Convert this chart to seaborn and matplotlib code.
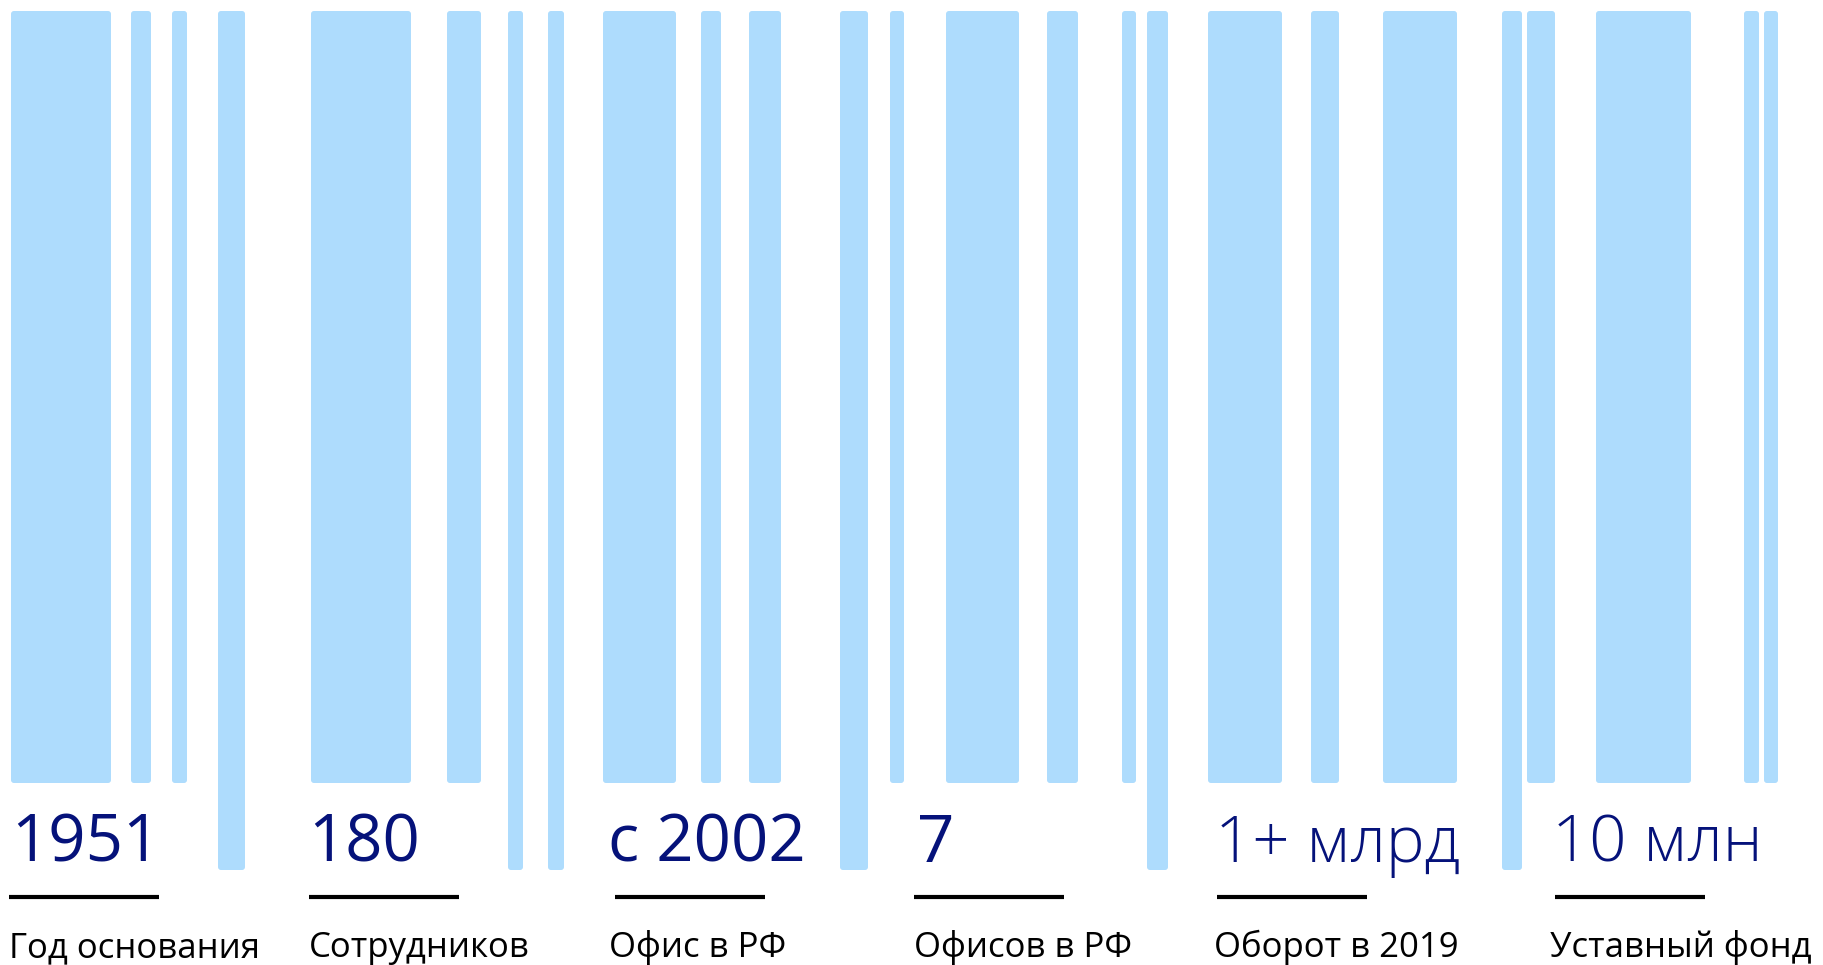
import seaborn as sns
import matplotlib.pyplot as plt
from matplotlib.patches import FancyBboxPatch

# barcode stripes, in picture pixel units (left edge, right edge, long or short)
bar_left = [11, 131, 172, 218, 311, 447, 508, 548, 603, 701, 749, 840, 890,
            946, 1047, 1122, 1147, 1208, 1311, 1383, 1502, 1527, 1596, 1744, 1764]
bar_right = [111, 151, 187, 245, 411, 481, 523, 564, 676, 721, 781, 868, 904,
             1019, 1078, 1136, 1168, 1282, 1339, 1457, 1522, 1555, 1691, 1759, 1778]
bar_long = [0, 0, 0, 1, 0, 0, 1, 1, 0, 0, 0, 1, 0,
            0, 0, 0, 1, 0, 0, 0, 1, 0, 0, 0, 0]

# facts under the barcode
values = ["1951", "180", "с 2002", "7", "1+ млрд", "10 млн"]
captions = ["Год основания", "Сотрудников", "Офис в РФ", "Офисов в РФ",
            "Оборот в 2019", "Уставный фонд"]
value_x = [11, 308, 608, 917, 1215, 1552]
line_x = [9, 309, 615, 914, 1217, 1555]
caption_x = [9, 309, 609, 914, 1214, 1550]
light = [False, False, False, False, True, True]

sns.set_theme(style="white")
plt.rcParams['font.family'] = ['Open Sans', 'DejaVu Sans']

W, H = 1823, 965
fig = plt.figure(figsize=(W / 100, H / 100), dpi=100)
ax = fig.add_axes([0, 0, 1, 1])
ax.set_xlim(0, W)
ax.set_ylim(H, 0)
ax.axis('off')

top = 11
short_end, long_end = 783, 870
blue = '#aedcfd'
widths = [r - l for l, r in zip(bar_left, bar_right)]
heights = [(long_end if lg else short_end) - top for lg in bar_long]
bars = ax.bar(bar_left, heights, width=widths, bottom=top, align='edge',
              color=blue, linewidth=0)

# swap plain rectangles for slightly rounded ones
for p in list(bars.patches):
    x, y = p.get_x(), p.get_y()
    w, h = p.get_width(), p.get_height()
    ax.add_patch(FancyBboxPatch((x, y), w, h, boxstyle="round,pad=0,rounding_size=3",
                                facecolor=blue, edgecolor='none'))
    p.set_visible(False)

navy = '#05127a'
for v, vx, lt in zip(values, value_x, light):
    ax.text(vx, 862, v, color=navy, fontsize=47, ha='left', va='baseline',
            fontweight='light' if lt else 'normal')

ax.hlines([897] * len(line_x), line_x, [x + 150 for x in line_x],
          color='black', linewidth=3)

for c, cx in zip(captions, caption_x):
    ax.text(cx, 957, c, color='black', fontsize=25, ha='left', va='baseline')

fig.savefig('out.png', dpi=100)
